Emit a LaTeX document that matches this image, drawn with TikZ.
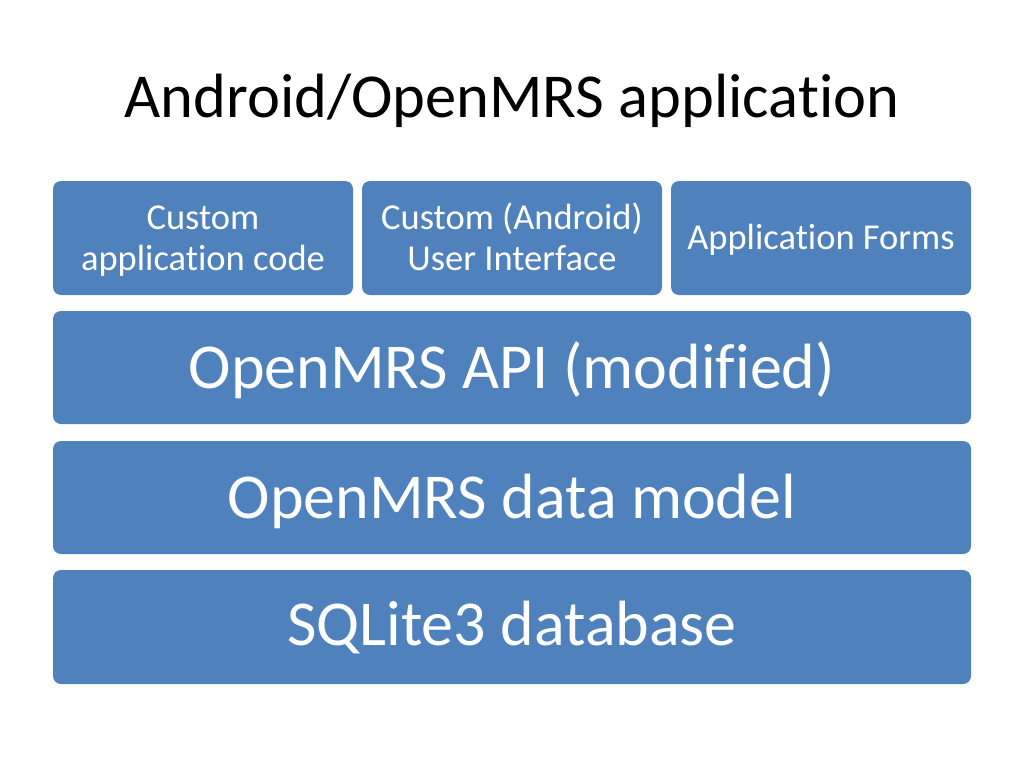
\documentclass[tikz,border=0pt]{standalone}
\usepackage{fontspec}
\setmainfont{Carlito}[Ligatures=NoCommon]
\definecolor{blk}{HTML}{4F81BD}
\tikzset{
  blk/.style={fill=blk, draw=none, rounded corners=8pt, inner sep=0pt},
  small/.style={blk, minimum width=300pt, minimum height=114pt},
  wide/.style={blk, minimum width=918pt},
  stxt/.style={font=\fontsize{36.5}{41}\selectfont, text=white, align=center, anchor=base, inner sep=0pt},
  wtxt/.style={font=\fontsize{64}{70}\selectfont, text=white, anchor=base, inner sep=0pt},
}
\begin{document}
\begin{tikzpicture}[x=1pt,y=-1pt]
\useasboundingbox (0,0) rectangle (1024,768);
\node[font=\fontsize{62.5}{70}\selectfont] (title) at (512,101) {Android/OpenMRS application};
\node[small] (c1) at (203,238) {};
\node[small] (c2) at (512,238) {};
\node[small] (c3) at (821,238) {};
\node[stxt] (t1) at (203,270) {Custom\\application code};
\node[stxt] (t2) at (512,270) {Custom (Android)\\User Interface};
\node[stxt] (t3) at (821,249) {Application Forms};
\node[wide, minimum height=113pt] (api) at (512,367.5) {};
\node[wide, minimum height=113pt] (dm) at (512,497.5) {};
\node[wide, minimum height=114pt] (db) at (512,627) {};
\node[wtxt] (ta) at (512,388) {OpenMRS API (modified)};
\node[wtxt] (td) at (512,518) {OpenMRS data model};
\node[wtxt] (tb) at (512,645) {SQLite3 database};
\end{tikzpicture}
\end{document}
